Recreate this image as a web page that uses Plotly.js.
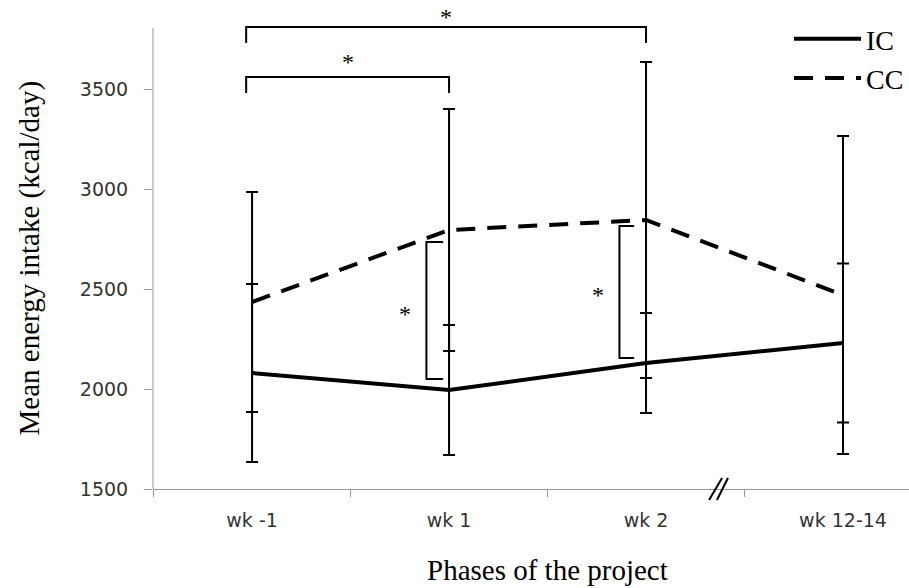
<!DOCTYPE html>
<html><head><meta charset="utf-8">
<script src="https://cdn.plot.ly/plotly-3.0.1.min.js"></script>
<style>html,body{margin:0;padding:0;background:#fff}#chart{width:909px;height:588px}</style>
</head><body><div id="chart"></div>
<script>
// ---- data ----
const phases = ['wk -1', 'wk 1', 'wk 2', 'wk 12-14'];
const icMean = [2080, 1995, 2130, 2230];
const icSd   = [445, 325, 250, 397];
const ccMean = [2435, 2795, 2845, 2470];
const ccSd   = [550, 605, 790, 795];

// significance between phases (horizontal brackets): from index, to index, bracket level, star level
const hbFrom  = [0, 0];
const hbTo    = [2, 1];
const hbLevel = [3810, 3560];
const hbStar  = [3860, 3635];
// significance between groups (vertical brackets): phase index, low, high, star level
const vbPhase = [1, 2];
const vbLow   = [2050, 2155];
const vbHigh  = [2735, 2815];
const vbStar  = [2375, 2470];

const serif = 'Liberation Serif, Times New Roman, serif';
const sans = 'DejaVu Sans, sans-serif';

const traces = [
  {x: phases, y: icMean, name: 'IC', type: 'scatter', mode: 'lines',
   line: {color: '#000', width: 4},
   error_y: {type: 'data', array: icSd, visible: true, color: '#000', thickness: 2, width: 6}},
  {x: phases, y: ccMean, name: 'CC', type: 'scatter', mode: 'lines',
   line: {color: '#000', width: 4, dash: '19px,12px'},
   error_y: {type: 'data', array: ccSd, visible: true, color: '#000', thickness: 2, width: 6}}
];

const shapes = [];
const annotations = [];
const bl = {color: '#000', width: 2};
for (let i = 0; i < hbFrom.length; i++) {
  const a = hbFrom[i] - 0.03, b = hbTo[i];
  shapes.push({type: 'path', xref: 'x', yref: 'y', line: bl,
    path: `M${a},${hbLevel[i] - 80} L${a},${hbLevel[i]} L${b},${hbLevel[i]} L${b},${hbLevel[i] - 80}`});
  annotations.push({xref: 'x', yref: 'y', x: (a + b) / 2, y: hbStar[i], text: '*', showarrow: false,
    font: {family: serif, size: 24, color: '#000'}, yanchor: 'middle'});
}
for (let i = 0; i < vbPhase.length; i++) {
  const xv = vbPhase[i] - 0.115 - 0.02 * i, xe = vbPhase[i] - 0.03 - 0.03 * i;
  shapes.push({type: 'path', xref: 'x', yref: 'y', line: bl,
    path: `M${xe},${vbHigh[i]} L${xv},${vbHigh[i]} L${xv},${vbLow[i]} L${xe},${vbLow[i]}`});
  annotations.push({xref: 'x', yref: 'y', x: xv - 0.11, y: vbStar[i], text: '*', showarrow: false,
    font: {family: serif, size: 24, color: '#000'}, yanchor: 'middle'});
}
// y axis line
shapes.push({type: 'line', xref: 'paper', yref: 'y', x0: 0, x1: 0, y0: 1500, y1: 3805,
  line: {color: '#999', width: 1}, layer: 'below'});
// axis break mark
shapes.push({type: 'line', xref: 'x', yref: 'paper', x0: 2.32, x1: 2.386, y0: -0.023, y1: 0.023, line: bl});
shapes.push({type: 'line', xref: 'x', yref: 'paper', x0: 2.36, x1: 2.416, y0: -0.023, y1: 0.023, line: bl});
// axis titles
annotations.push({xref: 'x', yref: 'paper', x: 1.5, y: -0.17, text: 'Phases of the project', showarrow: false,
  font: {family: serif, size: 29, color: '#000'}, yanchor: 'middle'});
annotations.push({xref: 'paper', yref: 'y', x: -0.164, y: (1500 + 3805) / 2, text: 'Mean energy intake (kcal/day)',
  textangle: -90, showarrow: false, font: {family: serif, size: 29, color: '#000'}, xanchor: 'center', yanchor: 'middle'});

const layout = {
  width: 909, height: 588,
  margin: {l: 153, r: 0, t: 14, b: 99},
  paper_bgcolor: '#fff', plot_bgcolor: '#fff',
  showlegend: true,
  legend: {x: 1, xanchor: 'right', y: 1, yanchor: 'top', bgcolor: 'rgba(0,0,0,0)',
    font: {family: serif, size: 28, color: '#000'}, itemwidth: 67},
  xaxis: {type: 'category', categoryarray: phases, range: [-0.503, 3.335],
    tickson: 'boundaries', ticks: 'outside', ticklen: 7, tickcolor: '#999',
    showline: true, linecolor: '#999', linewidth: 1, showgrid: false, zeroline: false,
    ticklabelstandoff: 14,
    tickfont: {family: sans, size: 19, color: '#333'}},
  yaxis: {range: [1500, 3875], tick0: 1500, dtick: 500, ticks: 'outside', ticklen: 8, tickcolor: '#999',
    showline: false, showgrid: false, zeroline: false, ticklabelstandoff: 12,
    tickfont: {family: sans, size: 19, color: '#333'}},
  shapes: shapes,
  annotations: annotations
};
Plotly.newPlot('chart', traces, layout, {displayModeBar: false, staticPlot: true});
</script></body></html>
